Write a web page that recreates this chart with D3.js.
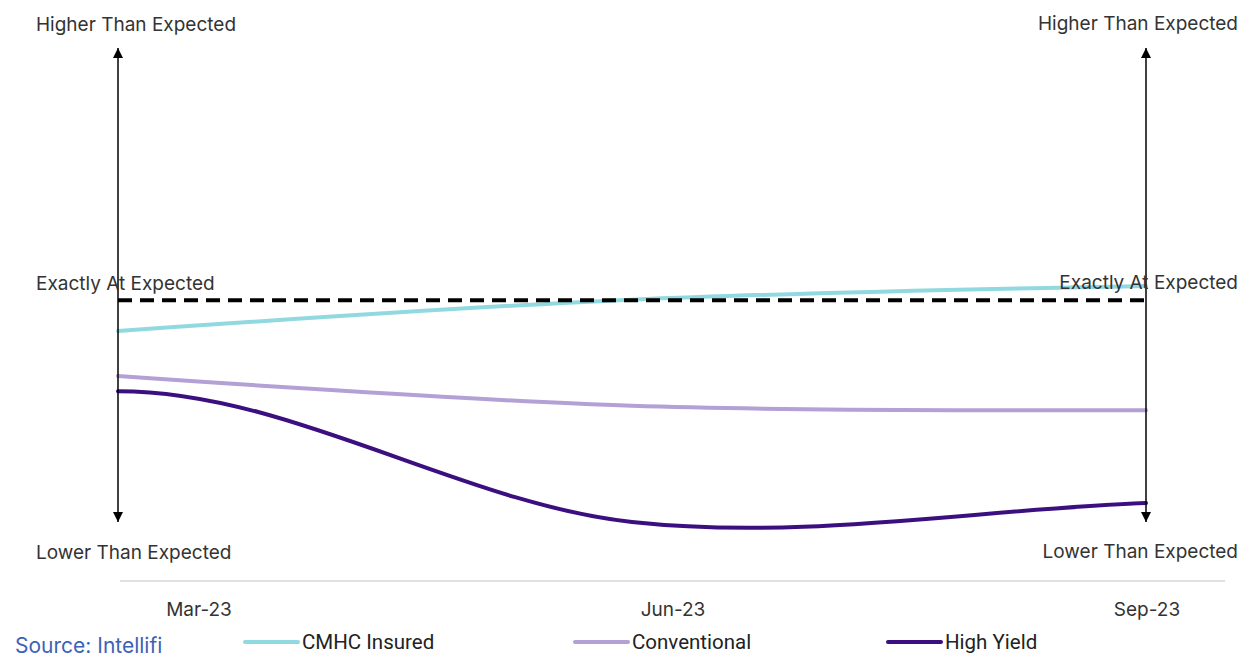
<!DOCTYPE html>
<html>
<head>
<meta charset="utf-8">
<script src="https://cdn.jsdelivr.net/npm/d3@7"></script>
<style>
    body { margin: 0; background: #fff; }
    svg { display: block; font-family: Inter, "Noto Sans", sans-serif; }
</style>
</head>
<body>
<div id="chart"></div>
<script>
// categories and series (0 = lower than expected, 100 = higher than expected)
const quarters = ["Mar-23", "Jun-23", "Sep-23"]
const cmhcInsured = [40.3, 46.9, 49.8]
const conventional = [30.8, 24.5, 23.6]
const highYield = [27.6, 0, 4.0]
const expectedLevel = 46.8
const seriesNames = ["CMHC Insured", "Conventional", "High Yield"]
const seriesColors = ["#91d9e1", "#b3a0d4", "#3b0f80"]
const levelLabels = ["Higher Than Expected", "Exactly At Expected", "Lower Than Expected"]

const width = 1241
const height = 659

const svg = d3.select("#chart")
    .append("svg")
    .attr("width", width)
    .attr("height", height)

// line positions and label positions differ in the original
const xScale = d3.scalePoint().domain(quarters).range([118, 1146])
const xLabel = d3.scalePoint().domain(quarters).range([199, 1147])
const yScale = d3.scaleLinear().domain([0, 100]).range([522, 48])

// smooth curve that leaves the first point flat (like the high yield line)
const flatStartCurve = (context) => {
    let pts
    return {
        areaStart() {}, areaEnd() {},
        lineStart() { pts = [] },
        point(x, y) { pts.push([+x, +y]) },
        lineEnd() {
            const n = pts.length
            const m = pts.map((p, i) => {
                if (i === 0) return 0
                if (i === n - 1) return (p[1] - pts[i - 1][1]) / (p[0] - pts[i - 1][0])
                return (pts[i + 1][1] - pts[i - 1][1]) / (pts[i + 1][0] - pts[i - 1][0])
            })
            context.moveTo(pts[0][0], pts[0][1])
            for (let i = 0; i < n - 1; i++) {
                const h = (pts[i + 1][0] - pts[i][0]) / 3
                context.bezierCurveTo(
                    pts[i][0] + h, pts[i][1] + m[i] * h,
                    pts[i + 1][0] - h, pts[i + 1][1] - m[i + 1] * h,
                    pts[i + 1][0], pts[i + 1][1])
            }
        }
    }
}

const defs = svg.append("defs")
defs.append("marker")
    .attr("id", "arrow")
    .attr("viewBox", "0 0 10 10")
    .attr("refX", 10).attr("refY", 5)
    .attr("markerWidth", 10).attr("markerHeight", 10)
    .attr("markerUnits", "userSpaceOnUse")
    .attr("orient", "auto-start-reverse")
    .append("path")
    .attr("d", "M0,0 L10,5 L0,10 z")
    .attr("fill", "#000")

// series lines
const series = [cmhcInsured, conventional, highYield]
const curves = [d3.curveCatmullRom, d3.curveCatmullRom, flatStartCurve]

series.forEach((s, k) => {
    const line = d3.line()
        .x((d, i) => xScale(quarters[i]))
        .y(d => yScale(d))
        .curve(curves[k])
    svg.append("path")
        .datum(s)
        .attr("fill", "none")
        .attr("stroke", seriesColors[k])
        .attr("stroke-width", 4)
        .attr("stroke-linecap", "round")
        .attr("d", line)
})

// expected level dashed line
svg.append("line")
    .attr("x1", xScale(quarters[0]))
    .attr("x2", xScale(quarters[quarters.length - 1]))
    .attr("y1", yScale(expectedLevel))
    .attr("y2", yScale(expectedLevel))
    .attr("stroke", "#000")
    .attr("stroke-width", 4)
    .attr("stroke-dasharray", "14,8")

// double arrows at both ends
;[quarters[0], quarters[quarters.length - 1]].forEach(q => {
    svg.append("line")
        .attr("x1", xScale(q)).attr("x2", xScale(q))
        .attr("y1", yScale(0)).attr("y2", yScale(100))
        .attr("stroke", "#000")
        .attr("stroke-width", 1.5)
        .attr("marker-start", "url(#arrow)")
        .attr("marker-end", "url(#arrow)")
})

// level labels
const levelY = [yScale(100) - 24, yScale(expectedLevel) - 17, yScale(0) + 30]
levelLabels.forEach((t, i) => {
    svg.append("text")
        .attr("x", 36).attr("y", levelY[i])
        .attr("dy", "0.35em")
        .attr("font-size", 19)
        .attr("fill", "#333")
        .text(t)
    svg.append("text")
        .attr("x", 1238).attr("y", levelY[i] - 1)
        .attr("dy", "0.35em")
        .attr("text-anchor", "end")
        .attr("font-size", 19)
        .attr("fill", "#333")
        .text(t)
})

// category axis
svg.append("line")
    .attr("x1", 120).attr("x2", 1225)
    .attr("y1", 581).attr("y2", 581)
    .attr("stroke", "#e0e0e0")
    .attr("stroke-width", 2)

svg.selectAll(".tick-label")
    .data(quarters)
    .enter()
    .append("text")
    .attr("class", "tick-label")
    .attr("x", d => xLabel(d))
    .attr("y", 609)
    .attr("dy", "0.35em")
    .attr("text-anchor", "middle")
    .attr("font-size", 19)
    .attr("fill", "#333")
    .text(d => d)

// legend
const legendX = [245, 575, 888]
seriesNames.forEach((n, k) => {
    const g = svg.append("g").attr("transform", `translate(${legendX[k]},642)`)
    g.append("line")
        .attr("x1", 0).attr("x2", 53)
        .attr("stroke", seriesColors[k])
        .attr("stroke-width", 4)
        .attr("stroke-linecap", "round")
    g.append("text")
        .attr("x", 57)
        .attr("dy", "0.35em")
        .attr("font-size", 20.5)
        .attr("font-family", "Roboto, sans-serif")
        .attr("fill", "#222")
        .text(n)
})

// source note
svg.append("text")
    .attr("x", 15).attr("y", 653)
    .attr("font-size", 21)
    .attr("fill", "#3b63b5")
    .text("Source: Intellifi")
</script>
</body>
</html>
